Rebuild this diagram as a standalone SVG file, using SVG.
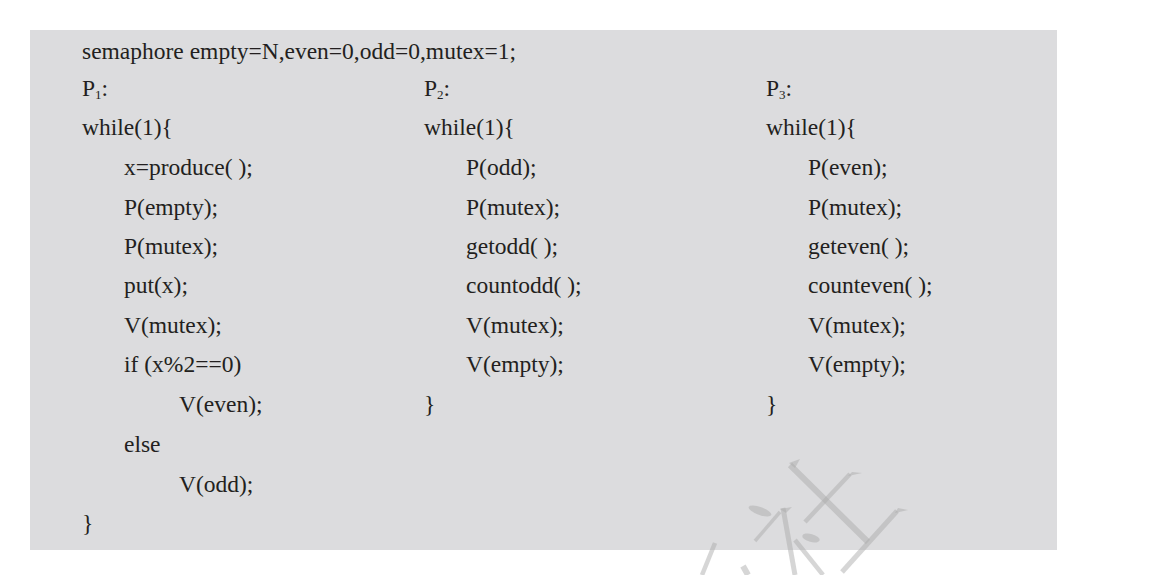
<svg xmlns="http://www.w3.org/2000/svg" width="1172" height="575" viewBox="0 0 1172 575">
<style>
.t{font-family:"Liberation Serif","Times New Roman",serif;font-size:23.5px;fill:#231f20}
.sub{font-size:13px}
.wm{stroke:#ababab;stroke-opacity:0.49;fill:none;stroke-linecap:butt}
.wmf{fill:#ababab;fill-opacity:0.49}
</style>
<rect x="0" y="0" width="1172" height="575" fill="#ffffff"/>
<g id="panel">
<rect x="30" y="30" width="1027" height="520" fill="#dcdcde"/>
</g>
<g id="header">
<text class="t" x="82" y="59">semaphore empty=N,even=0,odd=0,mutex=1;</text>
</g>
<g id="P1">
<text class="t" x="82" y="96">P<tspan class="sub" dy="3">1</tspan><tspan dy="-3">:</tspan></text>
<text class="t" x="82" y="135">while(1){</text>
<text class="t" x="124" y="175">x=produce( );</text>
<text class="t" x="124" y="215">P(empty);</text>
<text class="t" x="124" y="254">P(mutex);</text>
<text class="t" x="124" y="293">put(x);</text>
<text class="t" x="124" y="333">V(mutex);</text>
<text class="t" x="124" y="372">if (x%2==0)</text>
<text class="t" x="179" y="412">V(even);</text>
<text class="t" x="124" y="452">else</text>
<text class="t" x="179" y="492">V(odd);</text>
<text class="t" x="82" y="531">}</text>
</g>
<g id="P2">
<text class="t" x="424" y="96">P<tspan class="sub" dy="3">2</tspan><tspan dy="-3">:</tspan></text>
<text class="t" x="424" y="135">while(1){</text>
<text class="t" x="466" y="175">P(odd);</text>
<text class="t" x="466" y="215">P(mutex);</text>
<text class="t" x="466" y="254">getodd( );</text>
<text class="t" x="466" y="293">countodd( );</text>
<text class="t" x="466" y="333">V(mutex);</text>
<text class="t" x="466" y="372">V(empty);</text>
<text class="t" x="424" y="412">}</text>
</g>
<g id="P3">
<text class="t" x="766" y="96">P<tspan class="sub" dy="3">3</tspan><tspan dy="-3">:</tspan></text>
<text class="t" x="766" y="135">while(1){</text>
<text class="t" x="808" y="175">P(even);</text>
<text class="t" x="808" y="215">P(mutex);</text>
<text class="t" x="808" y="254">geteven( );</text>
<text class="t" x="808" y="293">counteven( );</text>
<text class="t" x="808" y="333">V(mutex);</text>
<text class="t" x="808" y="372">V(empty);</text>
<text class="t" x="766" y="412">}</text>
</g>
<g id="watermark">
<line class="wm" x1="790" y1="465" x2="868" y2="542" stroke-width="6"/>
<line class="wm" x1="850" y1="474" x2="805" y2="522" stroke-width="4.5"/>
<line class="wm" x1="897" y1="511" x2="842" y2="572" stroke-width="5"/>
<line class="wm" x1="783" y1="508" x2="795" y2="575" stroke-width="5"/>
<line class="wm" x1="780" y1="512" x2="755" y2="541" stroke-width="3.5"/>
<line class="wm" x1="795" y1="540" x2="823" y2="575" stroke-width="4.5"/>
<line class="wm" x1="715" y1="543" x2="702" y2="575" stroke-width="4.5"/>
<line class="wm" x1="743" y1="566" x2="748" y2="575" stroke-width="6"/>
<ellipse class="wmf" cx="760" cy="511" rx="12" ry="4" transform="rotate(20 760 511)"/>
<ellipse class="wmf" cx="811" cy="538" rx="9" ry="4" transform="rotate(15 811 538)"/>
<polygon class="wmf" points="789,463 800,459 795,468"/>
<polygon class="wmf" points="848,476 862,473 852,472"/>
<polygon class="wmf" points="895,513 908,510 898,508"/>
<polygon class="wmf" points="780,509 792,507 786,513"/>
</g>
</svg>
